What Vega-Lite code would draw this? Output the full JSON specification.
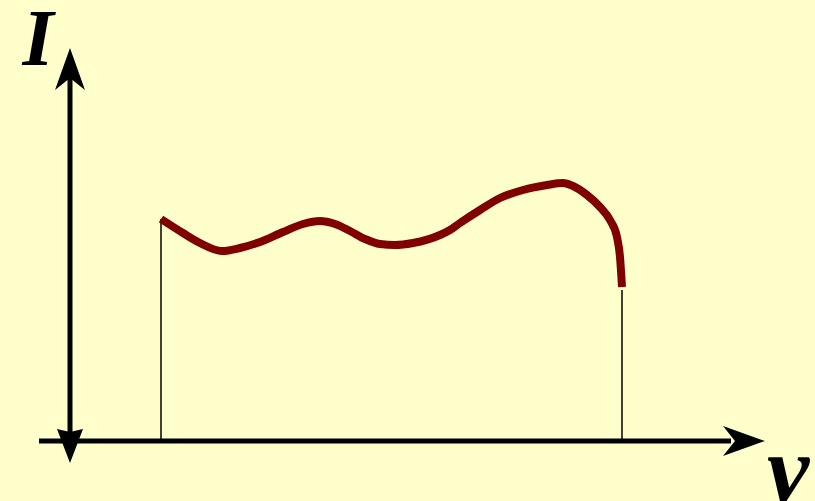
{
  "$schema": "https://vega.github.io/schema/vega-lite/v6.json",
  "width": 815,
  "height": 501,
  "autosize": {"type": "none"},
  "padding": 0,
  "background": "#FFFFCC",
  "config": {"view": {"stroke": null}},
  "datasets": {
    "curve": [
      {"nu": 161, "I": 282}, {"nu": 183, "I": 268}, {"nu": 200, "I": 258}, {"nu": 222, "I": 250},
      {"nu": 240, "I": 253}, {"nu": 260, "I": 259}, {"nu": 283, "I": 269}, {"nu": 303, "I": 277},
      {"nu": 320, "I": 280}, {"nu": 335, "I": 277}, {"nu": 350, "I": 270}, {"nu": 365, "I": 262},
      {"nu": 380, "I": 257}, {"nu": 395, "I": 256}, {"nu": 413, "I": 258}, {"nu": 440, "I": 266},
      {"nu": 450, "I": 271}, {"nu": 460, "I": 278}, {"nu": 480, "I": 291}, {"nu": 500, "I": 303},
      {"nu": 523, "I": 311}, {"nu": 547, "I": 316}, {"nu": 563, "I": 318}, {"nu": 573, "I": 315},
      {"nu": 587, "I": 306}, {"nu": 600, "I": 294}, {"nu": 610, "I": 281}, {"nu": 617, "I": 264},
      {"nu": 620, "I": 244}, {"nu": 622, "I": 214}
    ],
    "axes": [
      {"x": 70, "y": 423, "x2": 70, "y2": 58},
      {"x": 39, "y": 60, "x2": 731, "y2": 60}
    ],
    "limits": [
      {"x": 161, "y": 282, "x2": 161, "y2": 60},
      {"x": 622, "y": 211, "x2": 622, "y2": 60}
    ],
    "heads": [
      {"x": 70, "y": 432, "dir": "up"},
      {"x": 744, "y": 60, "dir": "right"},
      {"x": 70, "y": 55, "dir": "down"}
    ],
    "labels": [
      {"x": 38, "y": 436, "t": "I", "axis": "I"},
      {"x": 788, "y": 0, "t": "ν", "axis": "nu"}
    ]
  },
  "layer": [
    {
      "data": {"name": "axes"},
      "mark": {"type": "rule", "color": "black", "strokeWidth": 5},
      "encoding": {
        "x": {"field": "x", "type": "quantitative", "scale": {"domain": [0, 815], "nice": false, "zero": false}, "axis": null},
        "y": {"field": "y", "type": "quantitative", "scale": {"domain": [0, 501], "nice": false, "zero": false}, "axis": null},
        "x2": {"field": "x2"},
        "y2": {"field": "y2"}
      }
    },
    {
      "data": {"name": "limits"},
      "mark": {"type": "rule", "color": "black", "strokeWidth": 1.5},
      "encoding": {
        "x": {"field": "x", "type": "quantitative"},
        "y": {"field": "y", "type": "quantitative"},
        "x2": {"field": "x2"},
        "y2": {"field": "y2"}
      }
    },
    {
      "data": {"name": "heads"},
      "transform": [{"filter": "datum.dir === 'up'"}],
      "mark": {"type": "point", "filled": true, "color": "black", "opacity": 1, "strokeWidth": 0, "size": 1764, "shape": "M0,-1L0.714,1L0,0.43L-0.714,1Z"},
      "encoding": {
        "x": {"field": "x", "type": "quantitative"},
        "y": {"field": "y", "type": "quantitative"}
      }
    },
    {
      "data": {"name": "heads"},
      "transform": [{"filter": "datum.dir === 'right'"}],
      "mark": {"type": "point", "filled": true, "color": "black", "opacity": 1, "strokeWidth": 0, "size": 1764, "shape": "M1,0L-1,0.714L-0.43,0L-1,-0.714Z"},
      "encoding": {
        "x": {"field": "x", "type": "quantitative"},
        "y": {"field": "y", "type": "quantitative"}
      }
    },
    {
      "data": {"name": "heads"},
      "transform": [{"filter": "datum.dir === 'down'"}],
      "mark": {"type": "point", "filled": true, "color": "black", "opacity": 1, "strokeWidth": 0, "size": 1156, "shape": "M0,1L0.765,-1L0,-0.82L-0.765,-1Z"},
      "encoding": {
        "x": {"field": "x", "type": "quantitative"},
        "y": {"field": "y", "type": "quantitative"}
      }
    },
    {
      "data": {"name": "curve"},
      "mark": {"type": "line", "color": "#800000", "strokeWidth": 8, "strokeCap": "butt", "interpolate": "monotone"},
      "encoding": {
        "x": {"field": "nu", "type": "quantitative"},
        "y": {"field": "I", "type": "quantitative"}
      }
    },
    {
      "data": {"name": "labels"},
      "transform": [{"filter": "datum.axis === 'I'"}],
      "mark": {"type": "text", "font": "Liberation Serif", "fontWeight": "bold", "fontStyle": "italic", "fontSize": 80, "align": "center", "baseline": "alphabetic", "color": "black"},
      "encoding": {
        "x": {"field": "x", "type": "quantitative"},
        "y": {"field": "y", "type": "quantitative"},
        "text": {"field": "t"}
      }
    },
    {
      "data": {"name": "labels"},
      "transform": [{"filter": "datum.axis === 'nu'"}],
      "mark": {"type": "text", "font": "Liberation Serif", "fontWeight": "bold", "fontStyle": "italic", "fontSize": 95, "align": "center", "baseline": "alphabetic", "color": "black"},
      "encoding": {
        "x": {"field": "x", "type": "quantitative"},
        "y": {"field": "y", "type": "quantitative"},
        "text": {"field": "t"}
      }
    }
  ]
}
